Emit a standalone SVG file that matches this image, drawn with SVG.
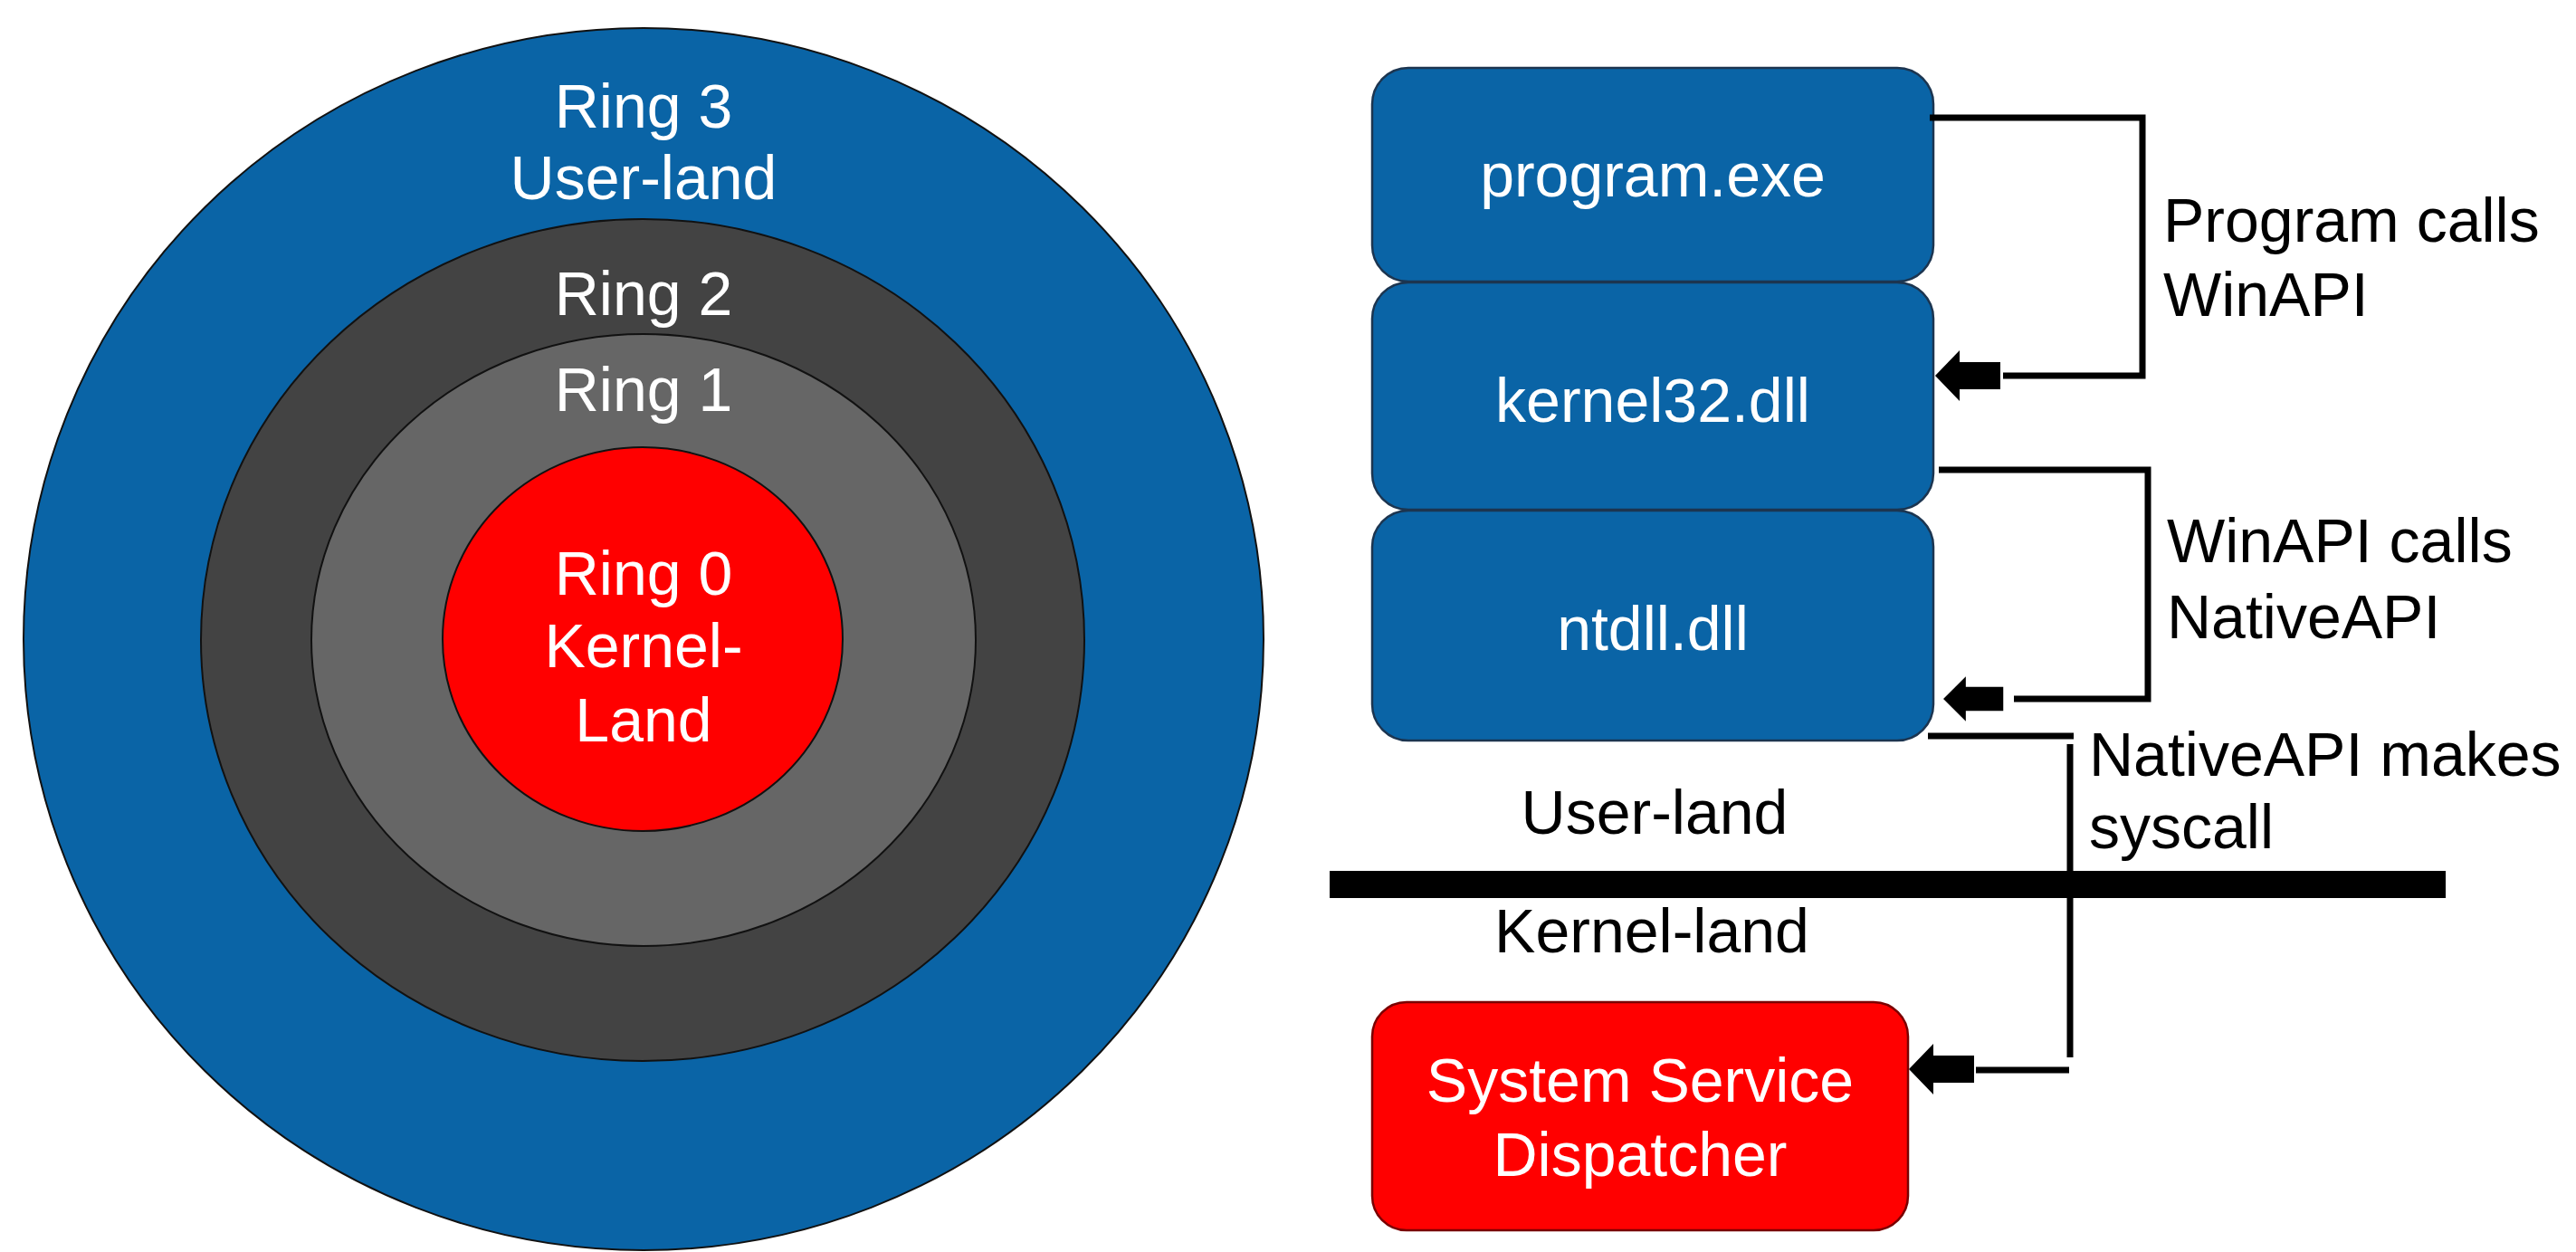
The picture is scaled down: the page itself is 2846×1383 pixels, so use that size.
<svg xmlns="http://www.w3.org/2000/svg" width="2846" height="1383" viewBox="0 0 2846 1383">
  <style>
    text { font-family: "Liberation Sans", Arial, sans-serif; font-size: 68px; }
    .ring { stroke: #111; stroke-width: 2; }
    .light { fill: #ffffff; text-anchor: middle; }
    .dark { fill: #000000; }
    .mid { text-anchor: middle; }
    .layer { fill: #0a64a6; stroke: #1c3550; stroke-width: 2.5; }
    .kern { fill: #ff0000; stroke: #7a0000; stroke-width: 2.5; }
    .wire { fill: none; stroke: #000; stroke-width: 7; stroke-linecap: butt; }
  </style>
  <defs>
    <!-- block arrow pointing left, tip at the origin -->
    <path id="blockArrow" d="M0,0 L27,-28 L27,-15 L72,-15 L72,15 L27,15 L27,28 Z" fill="#000"/>
  </defs>

  <rect width="2846" height="1383" fill="#ffffff"/>

  <!-- protection rings -->
  <g id="ring3">
    <ellipse class="ring" cx="711" cy="706" rx="685" ry="675" fill="#0a64a6"/>
    <text class="light" x="711" y="141">Ring 3</text>
    <text class="light" x="711" y="220">User-land</text>
  </g>
  <g id="ring2">
    <ellipse class="ring" cx="710" cy="707" rx="488" ry="465" fill="#434343"/>
    <text class="light" x="711" y="348">Ring 2</text>
  </g>
  <g id="ring1">
    <ellipse class="ring" cx="711" cy="707" rx="367" ry="338" fill="#666666"/>
    <text class="light" x="711" y="454">Ring 1</text>
  </g>
  <g id="ring0">
    <ellipse class="ring" cx="710" cy="706" rx="221" ry="212" fill="#ff0000"/>
    <text class="light" x="711" y="657">Ring 0</text>
    <text class="light" x="711" y="737">Kernel-</text>
    <text class="light" x="711" y="819">Land</text>
  </g>

  <!-- call stack -->
  <g id="program-exe">
    <rect class="layer" x="1516" y="75" width="620" height="236" rx="40" ry="40"/>
    <text class="light" x="1826" y="217">program.exe</text>
  </g>
  <g id="kernel32-dll">
    <rect class="layer" x="1516" y="312" width="620" height="251" rx="40" ry="40"/>
    <text class="light" x="1826" y="466">kernel32.dll</text>
  </g>
  <g id="ntdll-dll">
    <rect class="layer" x="1516" y="564" width="620" height="254" rx="40" ry="40"/>
    <text class="light" x="1826" y="718">ntdll.dll</text>
  </g>
  <g id="system-service-dispatcher">
    <rect class="kern" x="1516" y="1107" width="592" height="252" rx="38" ry="38"/>
    <text class="light" x="1812" y="1217">System Service</text>
    <text class="light" x="1812" y="1299">Dispatcher</text>
  </g>

  <!-- privilege boundary -->
  <g id="boundary">
    <rect x="1469" y="962" width="1233" height="30" fill="#000"/>
    <text class="dark mid" x="1828" y="921">User-land</text>
    <text class="dark mid" x="1825" y="1052">Kernel-land</text>
  </g>

  <!-- calls between layers -->
  <g id="connectors">
    <path class="wire" d="M2132,130 H2367 V415 H2213"/>
    <use href="#blockArrow" x="2138" y="415"/>

    <path class="wire" d="M2142,519 H2373 V772 H2225"/>
    <use href="#blockArrow" transform="translate(2147,772) scale(0.92,0.88)"/>

    <path class="wire" d="M2130,813 H2291 M2287,822 V1168 M2286,1182 H2183"/>
    <use href="#blockArrow" x="2109" y="1181"/>
  </g>

  <!-- connector labels -->
  <g id="labels">
    <text class="dark" x="2390" y="267">Program calls</text>
    <text class="dark" x="2390" y="349">WinAPI</text>
    <text class="dark" x="2394" y="621">WinAPI calls</text>
    <text class="dark" x="2394" y="705">NativeAPI</text>
    <text class="dark" x="2308" y="857">NativeAPI makes</text>
    <text class="dark" x="2308" y="937">syscall</text>
  </g>
</svg>
